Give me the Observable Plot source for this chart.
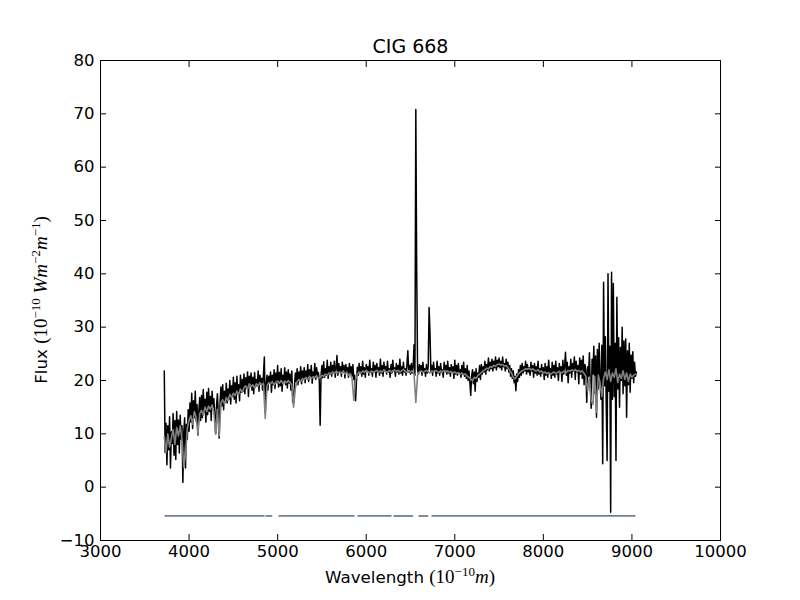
<!DOCTYPE html>
<html>
<head>
<meta charset="utf-8">
<script src="https://cdn.jsdelivr.net/npm/d3@7"></script>
<script src="https://cdn.jsdelivr.net/npm/@observablehq/plot@0.6"></script>
<style>
  html, body { margin: 0; padding: 0; background: white; }
</style>
</head>
<body>
<div id="chart"></div>
<script>
// ---- data ----
const title = "CIG 668";
const xTicks = [3000, 4000, 5000, 6000, 7000, 8000, 9000, 10000];
const yTicks = [-10, 0, 10, 20, 30, 40, 50, 60, 70, 80];

// observed spectrum sampled every 10 Å from 3720 Å
const obsStart = 3720, obsStep = 10;
const obsFlux = [
  21.8, 6.5, 12.0, 4.2, 11.5, 7.0, 13.2, 3.6, 10.4, 8.2,
  13.8, 6.0, 12.5, 5.2, 14.2, 8.0, 12.6, 6.4, 13.5, 9.0,
  11.5, 0.9, 10.2, 13.0, 3.6, 11.8, 9.0, 14.5, 10.5, 15.8,
  12.2, 17.6, 11.0, 16.2, 13.0, 18.0, 12.4, 15.5, 9.8, 14.2,
  16.8, 12.5, 17.2, 13.0, 18.3, 14.0, 16.5, 12.2, 17.8, 13.6,
  18.5, 14.2, 17.0, 12.5, 18.0, 15.0, 16.6, 13.5, 10.0, 15.2,
  17.5, 13.8, 9.2, 16.0, 18.8, 15.2, 19.2, 14.5, 18.0, 16.0,
  19.5, 15.8, 18.4, 16.5, 20.0, 15.6, 19.0, 17.0, 20.6, 16.5,
  19.6, 15.8, 20.8, 17.5, 19.2, 16.2, 21.0, 17.8, 20.2, 18.0,
  21.2, 17.5, 20.5, 18.6, 21.6, 17.0, 20.8, 19.0, 21.4, 18.2,
  20.6, 17.5, 21.5, 18.8, 20.2, 19.0, 21.8, 18.0, 21.0, 19.4,
  20.4, 18.2, 21.2, 24.4, 14.0, 19.0, 21.0, 18.2, 20.8, 19.5,
  21.6, 17.8, 21.0, 19.2, 22.0, 18.5, 21.4, 19.6, 22.8, 18.8,
  21.5, 19.0, 22.2, 18.0, 21.0, 19.8, 22.4, 19.2, 21.6, 18.6,
  22.0, 19.5, 21.2, 18.2, 21.8, 16.0, 15.8, 19.0, 21.4, 19.8,
  22.2, 19.2, 21.6, 20.0, 22.6, 19.4, 21.8, 20.2, 22.4, 19.6,
  21.8, 20.4, 23.0, 19.8, 22.0, 20.6, 22.8, 19.5, 21.6, 20.8,
  23.2, 20.2, 22.4, 20.8, 21.5, 20.0, 11.6, 21.0, 22.8, 20.5,
  23.5, 20.6, 22.2, 21.0, 23.8, 20.4, 22.6, 21.2, 23.4, 20.8,
  22.8, 21.4, 23.6, 20.6, 22.4, 24.7, 21.0, 23.2, 21.5, 22.6,
  20.8, 23.4, 21.6, 22.8, 20.5, 23.0, 21.8, 22.4, 20.6, 23.2,
  21.2, 22.6, 20.8, 23.0, 20.2, 21.0, 16.2, 19.8, 22.5, 21.0,
  23.2, 21.4, 22.6, 20.8, 23.6, 21.2, 22.4, 20.6, 23.0, 21.8,
  22.6, 21.0, 23.8, 21.6, 22.2, 20.8, 23.4, 21.8, 22.8, 20.6,
  23.2, 21.6, 22.4, 21.0, 24.0, 21.4, 22.8, 20.8, 23.4, 21.8,
  22.6, 21.2, 23.6, 21.6, 22.2, 20.6, 23.0, 21.4, 23.8, 21.8,
  22.4, 20.8, 23.2, 21.6, 22.8, 21.2, 24.0, 21.4, 22.6, 21.0,
  23.4, 21.6, 22.2, 21.0, 23.0, 25.6, 21.6, 22.8, 21.2, 23.2,
  21.4, 22.6, 26.7, 21.0, 70.8, 40.5, 22.0, 21.2, 23.0, 21.8,
  22.8, 21.0, 23.4, 21.6, 22.2, 20.8, 23.0, 21.4, 22.6, 33.7,
  29.1, 21.6, 22.8, 21.0, 23.4, 21.8, 22.2, 20.8, 23.6, 21.4,
  22.6, 21.0, 23.2, 21.6, 22.0, 20.6, 23.4, 21.8, 22.8, 21.2,
  23.6, 21.4, 22.4, 20.8, 23.0, 21.6, 22.6, 20.4, 23.8, 21.2,
  22.8, 21.0, 23.2, 21.4, 22.0, 20.6, 22.8, 21.2, 23.4, 20.8,
  22.2, 20.4, 22.8, 20.0, 21.8, 19.6, 17.2, 20.8, 22.0, 19.4,
  21.6, 18.0, 22.2, 19.8, 21.4, 20.6, 22.8, 20.2, 23.0, 21.2,
  22.6, 21.6, 23.6, 21.2, 23.0, 22.0, 24.2, 21.8, 23.4, 22.2,
  24.0, 21.8, 23.6, 22.4, 24.4, 22.0, 23.8, 22.6, 24.2, 22.4,
  23.6, 22.0, 24.4, 22.6, 23.2, 21.8, 24.0, 22.2, 23.4, 21.6,
  22.8, 20.8, 22.2, 20.4, 21.8, 19.6, 20.8, 18.1, 21.2, 19.8,
  22.0, 20.6, 22.8, 21.0, 23.2, 21.4, 22.6, 21.8, 23.6, 21.2,
  23.0, 21.6, 22.4, 21.0, 23.4, 21.8, 22.8, 20.6, 23.2, 21.4,
  22.6, 21.0, 23.6, 21.2, 22.2, 20.8, 23.0, 21.4, 22.4, 20.2,
  23.2, 21.0, 22.6, 20.6, 23.8, 21.4, 22.2, 20.4, 23.4, 21.0,
  22.8, 20.6, 23.6, 21.2, 22.4, 20.0, 23.2, 21.6, 22.6, 19.8,
  23.8, 21.2, 22.8, 25.3, 21.0, 23.4, 19.6, 22.6, 21.4, 24.0,
  20.6, 23.2, 21.8, 24.4, 20.2, 23.6, 21.6, 22.8, 19.4, 24.2,
  21.2, 23.8, 20.4, 24.6, 19.2, 23.0, 21.8, 15.9, 22.6, 20.8,
  25.2, 19.0, 14.8, 24.0, 21.2, 26.4, 17.6, 24.6, 13.1, 25.8,
  18.4, 27.0, 20.2, 16.5, 26.6, 4.4, 38.4, 19.0, 28.2, 15.2,
  5.0, 40.0, 18.0, 26.4, -4.7, 40.3, 16.5, 38.2, 17.0, 27.0,
  5.0, 35.6, 18.4, 28.0, 15.0, 26.2, 20.0, 30.0, 17.5, 27.4,
  19.0, 27.8, 13.1, 25.6, 19.2, 27.0, 17.8, 24.8, 20.4, 25.4,
  19.6, 23.4, 20.8, 21.6
];

// model (fit) spectrum sampled every 20 Å from 3720 Å
const fitStart = 3720, fitStep = 20;
const fitFlux = [
  9.5, 6.5, 10.0, 7.5, 9.2, 10.8, 8.0, 11.2, 9.6, 11.5,
  9.0, 3.8, 6.0, 11.0, 12.6, 13.4, 11.8, 14.2, 13.0, 10.0,
  13.8, 14.4, 13.5, 15.0, 14.2, 15.2, 14.6, 15.4, 14.0, 10.0,
  14.6, 9.6, 15.8, 16.4, 15.6, 16.8, 16.2, 17.4, 16.8, 17.6,
  17.2, 18.0, 17.4, 18.4, 17.8, 18.6, 19.0, 18.4, 19.4, 18.8,
  19.2, 18.6, 19.4, 19.0, 19.6, 19.2, 19.4, 12.9, 19.0, 19.6,
  19.4, 19.8, 19.2, 19.7, 19.9, 19.5, 20.0, 19.4, 19.9, 19.6,
  20.0, 19.6, 19.2, 15.0, 18.6, 19.8, 20.2, 19.8, 20.4, 20.2,
  20.6, 20.2, 20.8, 20.4, 20.7, 20.5, 20.9, 20.4, 20.6, 21.0,
  20.8, 21.2, 21.0, 21.4, 21.2, 21.6, 21.3, 21.7, 21.5, 21.6,
  21.4, 21.8, 21.2, 21.5, 21.0, 21.3, 20.4, 16.3, 20.2, 21.2,
  21.6, 21.4, 21.8, 21.5, 21.9, 21.6, 21.4, 21.8, 21.5, 21.7,
  21.9, 21.5, 21.8, 21.6, 22.0, 21.7, 21.5, 21.9, 21.6, 21.8,
  22.0, 21.7, 21.9, 21.6, 21.8, 22.1, 21.7, 21.5, 21.9, 21.6,
  21.8, 21.2, 15.9, 21.0, 21.6, 21.8, 21.5, 21.7, 21.9, 21.6,
  21.4, 21.8, 21.6, 21.9, 21.7, 21.5, 21.8, 21.6, 21.9, 21.6,
  21.8, 21.5, 21.7, 21.4, 21.6, 21.3, 21.5, 21.2, 21.4, 21.1,
  21.2, 20.8, 20.6, 20.3, 20.0, 20.6, 20.4, 20.9, 21.2, 21.5,
  21.8, 22.0, 22.3, 22.2, 22.6, 22.5, 22.8, 22.7, 23.0, 23.1,
  22.9, 23.0, 22.7, 22.8, 22.4, 21.9, 21.4, 20.6, 20.3, 20.8,
  21.2, 21.6, 21.8, 22.0, 22.2, 22.1, 22.3, 22.0, 22.2, 21.9,
  21.8, 22.0, 21.6, 21.8, 21.4, 21.6, 21.3, 21.5, 21.2, 21.4,
  21.6, 21.3, 21.5, 21.7, 21.4, 21.6, 21.8, 21.5, 21.9, 21.7,
  22.0, 21.8, 22.1, 21.7, 21.9, 21.6, 21.8, 21.3, 20.8, 18.0,
  20.6, 16.2, 15.5, 20.8, 14.0, 21.0, 19.6, 17.0, 20.4, 21.6,
  20.2, 22.0, 19.8, 21.4, 20.6, 22.2, 19.6, 21.2, 20.4, 21.8,
  20.2, 21.4, 19.8, 21.2, 20.6, 21.0, 21.2
];

// masked-pixel bar
const maskStart = [3723, 4863, 5010, 5902, 6308, 6590, 6737];
const maskEnd   = [4852, 4939, 5868, 6285, 6530, 6700, 9040];
const maskLevel = -5.4;

// ---- build tables ----
const obs = obsFlux.map((f, i) => ({w: obsStart + i * obsStep, f}));
const fit = fitFlux.map((f, i) => ({w: fitStart + i * fitStep, f}));
const masks = maskStart.map((s, i) => ({x1: s, x2: maskEnd[i], y: maskLevel}));

const fmt = d3.format("d");
const serif = "'Liberation Serif', 'DejaVu Serif', serif";

const chart = Plot.plot({
  width: 800,
  height: 600,
  marginLeft: 100,
  marginRight: 80,
  marginTop: 60,
  marginBottom: 60,
  x: {domain: [3000, 10000]},
  y: {domain: [-10, 80]},
  style: {fontFamily: "'DejaVu Sans', sans-serif", fontSize: "16px", background: "white", color: "black"},
  marks: [
    Plot.line(obs, {x: "w", y: "f", stroke: "black", strokeWidth: 1.5}),
    Plot.line(fit, {x: "w", y: "f", stroke: "#808080", strokeWidth: 1.6}),
    Plot.link(masks, {x1: "x1", x2: "x2", y1: "y", y2: "y", stroke: "#708090", strokeWidth: 1.8}),
    Plot.frame({stroke: "black", strokeWidth: 1}),
    Plot.axisX(xTicks, {anchor: "bottom", tickSize: -6, tickPadding: 11, tickFormat: fmt, label: null, fontSize: 16.5}),
    Plot.axisX(xTicks, {anchor: "top", tickSize: -6, tickFormat: () => "", label: null}),
    Plot.axisY(yTicks, {anchor: "left", tickSize: -6, tickPadding: 12, tickFormat: fmt, label: null, fontSize: 16.5}),
    Plot.axisY(yTicks, {anchor: "right", tickSize: -6, tickFormat: () => "", label: null}),
    Plot.text([title], {frameAnchor: "top", dy: -14, lineAnchor: "middle", fontSize: 19})
  ]
});
document.getElementById("chart").appendChild(chart);

// axis labels with math-style superscripts
const svg = d3.select(chart);
const xl = svg.append("text")
  .attr("x", 410).attr("y", 583)
  .attr("text-anchor", "middle").attr("font-size", 16.7).attr("fill", "black");
xl.append("tspan").attr("font-family", "DejaVu Sans").text("Wavelength ");
xl.append("tspan").attr("font-family", serif).attr("font-size", 19).text("(10");
xl.append("tspan").attr("font-family", serif).attr("font-size", 13).attr("dy", -7).text("−10");
xl.append("tspan").attr("font-family", serif).attr("font-size", 19).attr("font-style", "italic").attr("dy", 7).text("m");
xl.append("tspan").attr("font-family", serif).attr("font-size", 19).text(")");

const yl = svg.append("text")
  .attr("transform", "translate(47,300) rotate(-90)")
  .attr("text-anchor", "middle").attr("font-size", 16.7).attr("fill", "black");
yl.append("tspan").attr("font-family", "DejaVu Sans").text("Flux ");
yl.append("tspan").attr("font-family", serif).attr("font-size", 19).text("(10");
yl.append("tspan").attr("font-family", serif).attr("font-size", 13).attr("dy", -7).text("−10");
yl.append("tspan").attr("font-family", serif).attr("font-size", 19).attr("font-style", "italic").attr("dy", 7).text(" Wm");
yl.append("tspan").attr("font-family", serif).attr("font-size", 13).attr("dy", -7).text("−2");
yl.append("tspan").attr("font-family", serif).attr("font-size", 19).attr("font-style", "italic").attr("dy", 7).text("m");
yl.append("tspan").attr("font-family", serif).attr("font-size", 13).attr("dy", -7).text("−1");
yl.append("tspan").attr("font-family", serif).attr("font-size", 19).attr("dy", 7).text(")");
</script>
</body>
</html>
